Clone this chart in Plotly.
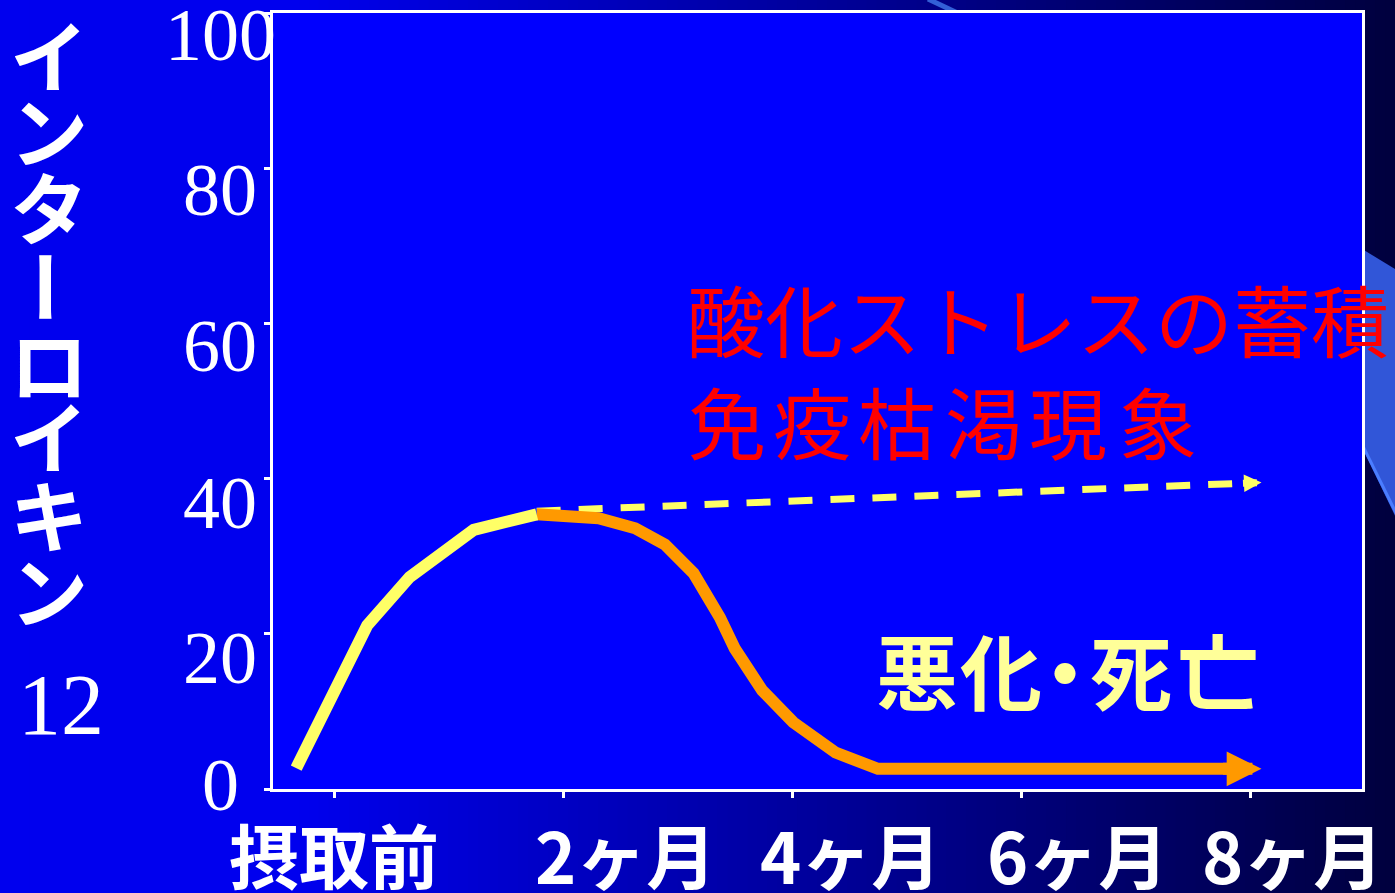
import math
import plotly.graph_objects as go

# ---- data ---------------------------------------------------------------
tick_months = [0, 2, 4, 6, 8]
tick_labels = ["摂取前", "2ヶ月", "4ヶ月", "6ヶ月", "8ヶ月"]
y_ticks = [0, 20, 40, 60, 80, 100]

# rising phase (yellow)
rise_months = [-0.33, 0.29, 0.66, 1.22, 1.77]
rise_il12 = [2.7, 21.1, 27.3, 33.4, 35.4]

# decline after ~2 months (orange), ends in an arrow
decline_months = [1.77, 2.31, 2.63, 2.89, 3.14, 3.37, 3.50, 3.74, 4.01, 4.38, 4.75, 8.10]
decline_il12 = [35.4, 34.9, 33.6, 31.5, 27.8, 22.1, 18.1, 12.7, 8.6, 4.7, 2.6, 2.6]

# sustained level (dashed yellow), ends in an arrow
sustain_months = [1.77, 8.10]
sustain_il12 = [35.8, 39.5]

y_title_chars = list("インターロイキン")
y_title_sub = "12"
note_red_1 = "酸化ストレスの蓄積"
note_red_2 = list("免疫枯渇現象")
note_yellow = list("悪化・死亡")

# ---- geometry / style ---------------------------------------------------
W, H = 1395, 893
L, R, T, B = 273, 33, 10, 104
PW, PH = W - L - R, H - T - B
X_RANGE = [-0.533, 8.978]
Y_RANGE = [0, 100]
PX_X = PW / (X_RANGE[1] - X_RANGE[0])
PX_Y = PH / (Y_RANGE[1] - Y_RANGE[0])

JP = "Noto Sans CJK JP"
SERIF = "Liberation Serif"
WHITE = "#FFFFFF"
YELLOW = "#FFFF66"
ORANGE = "#FF9900"
RED = "#FF0000"
PALE = "#FFFF99"
PLOT_BLUE = "#0000FF"


def paper_x(px):
    return (px - L) / PW


def paper_y(py):
    return (T + PH - py) / PH


# label placement (pixels)
x_label_shift = [0, 62, 58, 56, 42]
x_label_drop = -64
y_label_shift = [4, -24, -24, -23, -22, -22]
y_label_center = 220
y_title_x = 49
y_title_centers = [50, 125, 203, 285, 360, 433, 512, 587]
red2_centers = [727, 812, 897, 984, 1068, 1158]
yellow_centers = [917, 1001, 1065, 1131, 1218]

# ---- background ---------------------------------------------------------
shapes = []


def bg_blue(px):
    if px <= 300:
        return 238
    return 238 - (238 - 62) * (px - 300) / (W - 300)


N = 140
for i in range(N):
    x0 = i * W / N
    x1 = (i + 1) * W / N + 1
    b = int(round(bg_blue((x0 + x1) / 2)))
    shapes.append(dict(
        type="rect", xref="paper", yref="paper",
        x0=paper_x(x0), x1=paper_x(x1), y0=paper_y(H + 5), y1=paper_y(-5),
        fillcolor=f"rgb(0,0,{b})", line=dict(width=0), layer="below"))


def paper_path(points):
    return "M" + " L".join(f"{paper_x(px):.5f},{paper_y(py):.5f}" for px, py in points) + " Z"


# decorative light streaks of the slide background
shapes.append(dict(type="line", xref="paper", yref="paper",
                   x0=paper_x(928), y0=paper_y(-4), x1=paper_x(1000), y1=paper_y(30),
                   line=dict(color="rgb(50,95,215)", width=5), layer="below"))
shapes.append(dict(type="path", xref="paper", yref="paper",
                   path=paper_path([(1300, 209), (1400, 270), (1400, 525), (1300, 317)]),
                   fillcolor="rgb(49,86,216)", line=dict(width=0), layer="below"))
shapes.append(dict(type="line", xref="paper", yref="paper",
                   x0=paper_x(1300), y0=paper_y(317), x1=paper_x(1400), y1=paper_y(520),
                   line=dict(color="rgb(75,125,255)", width=3), layer="below"))

# plot area fill
shapes.append(dict(type="rect", xref="paper", yref="paper", x0=0, x1=1, y0=0, y1=1,
                   fillcolor=PLOT_BLUE, line=dict(width=0), layer="below"))

# ---- traces -------------------------------------------------------------
fig = go.Figure()

# dashed line stops under its arrowhead
sx0, sy0 = sustain_months[0], sustain_il12[0]
sx1, sy1 = sustain_months[-1], sustain_il12[-1]
dxp = (sx1 - sx0) * PX_X
dyp = -(sy1 - sy0) * PX_Y
seg = math.hypot(dxp, dyp)
ux, uy = dxp / seg, dyp / seg
dash_trim = 14
sustain_x = sustain_months[:-1] + [sx1 - dash_trim * ux / PX_X]
sustain_y = sustain_il12[:-1] + [sy1 + dash_trim * uy / PX_Y]

fig.add_trace(go.Scatter(
    x=sustain_x, y=sustain_y, mode="lines",
    line=dict(color=YELLOW, width=7, dash="24px,18px"),
    hoverinfo="skip", showlegend=False))

orange_trim = 28
decline_x = decline_months[:-1] + [decline_months[-1] - orange_trim / PX_X]
fig.add_trace(go.Scatter(
    x=decline_x, y=decline_il12, mode="lines",
    line=dict(color=ORANGE, width=12),
    hoverinfo="skip", showlegend=False))

fig.add_trace(go.Scatter(
    x=rise_months, y=rise_il12, mode="lines",
    line=dict(color=YELLOW, width=12),
    hoverinfo="skip", showlegend=False))

# ---- annotations --------------------------------------------------------
ann = []

# arrowheads
ann.append(dict(x=decline_months[-1], y=decline_il12[-1], xref="x", yref="y",
                text="", showarrow=True, ax=-40, ay=0, standoff=0,
                arrowhead=2, arrowsize=0.58, arrowwidth=12, arrowcolor=ORANGE))
ann.append(dict(x=sx1, y=sy1, xref="x", yref="y",
                text="", showarrow=True, ax=-20 * ux, ay=-20 * uy, standoff=0,
                arrowhead=2, arrowsize=0.5, arrowwidth=7, arrowcolor=YELLOW))

# x tick labels
for m, lab, sh in zip(tick_months, tick_labels, x_label_shift):
    ann.append(dict(x=m, y=0, xref="x", yref="paper", text=lab, showarrow=False,
                    xanchor="center", yanchor="middle", xshift=sh, yshift=x_label_drop,
                    font=dict(family=JP, size=70, color=WHITE, weight=700)))

# y tick labels
for v, sh in zip(y_ticks, y_label_shift):
    ann.append(dict(x=0, y=v, xref="paper", yref="y", text=str(v), showarrow=False,
                    xanchor="center", yanchor="middle",
                    xshift=y_label_center - L, yshift=sh,
                    font=dict(family=SERIF, size=74, color=WHITE)))

# vertical axis title
for ch, cy in zip(y_title_chars, y_title_centers):
    ann.append(dict(x=paper_x(y_title_x), y=paper_y(cy), xref="paper", yref="paper",
                    text=ch, showarrow=False, xanchor="center", yanchor="middle",
                    textangle=90 if ch == "ー" else 0,
                    font=dict(family=JP, size=78, color=WHITE, weight=700)))
ann.append(dict(x=paper_x(61), y=paper_y(705), xref="paper", yref="paper",
                text=y_title_sub, showarrow=False, xanchor="center", yanchor="middle",
                font=dict(family=SERIF, size=86, color=WHITE)))

# red notes
ann.append(dict(x=paper_x(685), y=paper_y(316), xref="paper", yref="paper",
                text=note_red_1, showarrow=False, xanchor="left", yanchor="middle",
                font=dict(family=JP, size=78, color=RED)))
for ch, cx in zip(note_red_2, red2_centers):
    ann.append(dict(x=paper_x(cx), y=paper_y(419), xref="paper", yref="paper",
                    text=ch, showarrow=False, xanchor="center", yanchor="middle",
                    font=dict(family=JP, size=78, color=RED)))

# outcome label
for ch, cx in zip(note_yellow, yellow_centers):
    ann.append(dict(x=paper_x(cx), y=paper_y(668), xref="paper", yref="paper",
                    text=ch, showarrow=False, xanchor="center", yanchor="middle",
                    font=dict(family=JP, size=82, color=PALE, weight=700)))

# ---- layout -------------------------------------------------------------
fig.update_layout(
    width=W, height=H,
    margin=dict(l=L, r=R, t=T, b=B, pad=0),
    paper_bgcolor="rgb(0,0,238)",
    plot_bgcolor=PLOT_BLUE,
    shapes=shapes,
    annotations=ann,
    showlegend=False,
    xaxis=dict(range=X_RANGE, tickvals=tick_months, showticklabels=False,
               showgrid=False, zeroline=False, showline=True, mirror=True,
               linecolor=WHITE, linewidth=3, ticks="outside", ticklen=6,
               tickwidth=3, tickcolor=WHITE, fixedrange=True),
    yaxis=dict(range=Y_RANGE, tickvals=y_ticks, showticklabels=False,
               showgrid=False, zeroline=False, showline=True, mirror=True,
               linecolor=WHITE, linewidth=3, ticks="outside", ticklen=6,
               tickwidth=3, tickcolor=WHITE, fixedrange=True),
)

fig.write_html("out.html", config=dict(displayModeBar=False))
